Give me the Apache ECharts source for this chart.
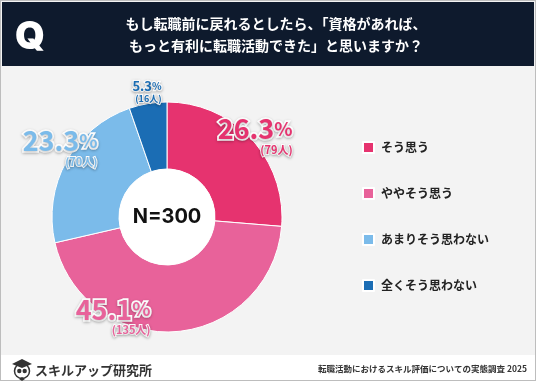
<!DOCTYPE html>
<html><head><meta charset="utf-8">
<script src="https://cdn.jsdelivr.net/npm/echarts@6/dist/echarts.min.js"></script>
<style>html,body{margin:0;padding:0;background:#fff}#c{width:536px;height:381px}</style>
</head><body><div id="c"></div>
<script>
const categories = ['そう思う','ややそう思う','あまりそう思わない','全くそう思わない'];
const percents = [26.3, 45.1, 23.3, 5.3];
const counts = [79, 135, 70, 16];
const colors = ['#e6336f','#e8629a','#7bbbea','#1b6db4'];
const titleLines = ['もし転職前に戻れるとしたら、「資格があれば、','もっと有利に転職活動できた」と思いますか？'];
const sampleLabel = 'N=300';
const footerLeft = 'スキルアップ研究所';
const footerRight = '転職活動におけるスキル評価についての実態調査 2025';

const FONT = '"Noto Sans CJK JP", "Noto Sans", sans-serif';
const labelOffsets = [[26,-23],[-60,16],[-33,-27],[-6,-42]];
const big = [true,true,true,false];

function richFor(i){
  const c = colors[i];
  const b = big[i];
  const base = {color:c, textBorderColor:'#fff', textBorderWidth: b?3.5:2.5, textShadowColor:'rgba(0,0,0,0.25)', textShadowBlur:3, textShadowOffsetY:1, fontFamily:FONT, fontWeight:'bold'};
  return {
    p: Object.assign({}, base, {fontSize: b?27:13, lineHeight: b?26:13}),
    s: Object.assign({}, base, {fontSize: b?19:10, lineHeight: b?26:13}),
    n: Object.assign({}, base, {fontSize: b?11:9, lineHeight: b?16:11, align:'right', textBorderWidth:2})
  };
}

const data = categories.map((name,i)=>({
  name, value: percents[i],
  itemStyle:{color:colors[i]},
  label:{offset: labelOffsets[i], rich: richFor(i)}
}));

const chart = echarts.init(document.getElementById('c'), null, {renderer:'canvas'});
chart.setOption({
  backgroundColor:'#ffffff',
  animation:false,
  graphic:[
    {type:'rect', shape:{x:0,y:0,width:536,height:381}, style:{fill:'#f3f3f3', stroke:'#bdbdbd', lineWidth:2}, z:-10},
    {type:'rect', shape:{x:1,y:355,width:534,height:25}, style:{fill:'#ffffff'}, z:-9},
    {type:'rect', shape:{x:2,y:2,width:532,height:64}, style:{fill:'#0e1a2d'}, z:-8},
    {type:'text', x:30, y:38, style:{text:'Q', fill:'#fff', font:'900 38px Inter, "Noto Sans", sans-serif', align:'center', verticalAlign:'middle'}},
    {type:'text', x:276, y:24, style:{text:titleLines[0], fill:'#fff', font:'bold 14px '+FONT, align:'center', verticalAlign:'middle'}},
    {type:'text', x:276, y:46, style:{text:titleLines[1], fill:'#fff', font:'bold 14px '+FONT, align:'center', verticalAlign:'middle'}},
    {type:'group', x:22, y:369, children:[
      {type:'circle', shape:{cx:0,cy:2,r:7.5}, style:{fill:'#fff', stroke:'#333', lineWidth:1.5}},
      {type:'circle', shape:{cx:-2.7,cy:2,r:2.2}, style:{fill:'#333'}},
      {type:'circle', shape:{cx:2.7,cy:2,r:2.2}, style:{fill:'#333'}},
      {type:'polygon', shape:{points:[[-10,-5],[0,-10],[10,-5],[0,-1]]}, style:{fill:'#333'}},
      {type:'polygon', shape:{points:[[-3,10],[0,8],[3,10],[0,12]]}, style:{fill:'#333'}}
    ]},
    {type:'text', x:35, y:370, style:{text:footerLeft, fill:'#333', font:'bold 13px '+FONT, verticalAlign:'middle'}},
    {type:'text', x:527, y:369, style:{text:footerRight, fill:'#333', font:'bold 8.5px '+FONT, align:'right', verticalAlign:'middle'}}
  ],
  legend:{
    orient:'vertical', left:357, top:136, itemGap:33, itemWidth:11, itemHeight:11, icon:'rect',
    data: categories,
    textStyle:{fontFamily:FONT, fontWeight:'bold', fontSize:12, color:'#222', padding:[0,0,0,2]}
  },
  series:[
    {
      type:'pie', center:[167,217], radius:[48,115], startAngle:90, clockwise:true,
      itemStyle:{borderColor:'#fff', borderWidth:1},
      label:{show:true, position:'inside', formatter: p => '{p|'+p.value+'}{s|%}\n{n|('+counts[p.dataIndex]+'人)}'},
      labelLine:{show:false},
      emphasis:{disabled:true},
      data
    },
    {
      type:'pie', center:[167,217], radius:[0,48], silent:true,
      itemStyle:{color:'#fff'},
      label:{show:true, position:'center', formatter: sampleLabel, fontFamily:'Inter, "Noto Sans", sans-serif', fontWeight:'bold', fontSize:20, color:'#111'},
      labelLine:{show:false},
      data:[{value:1, name:'N'}],
      legendHoverLink:false
    }
  ]
});
</script></body></html>
